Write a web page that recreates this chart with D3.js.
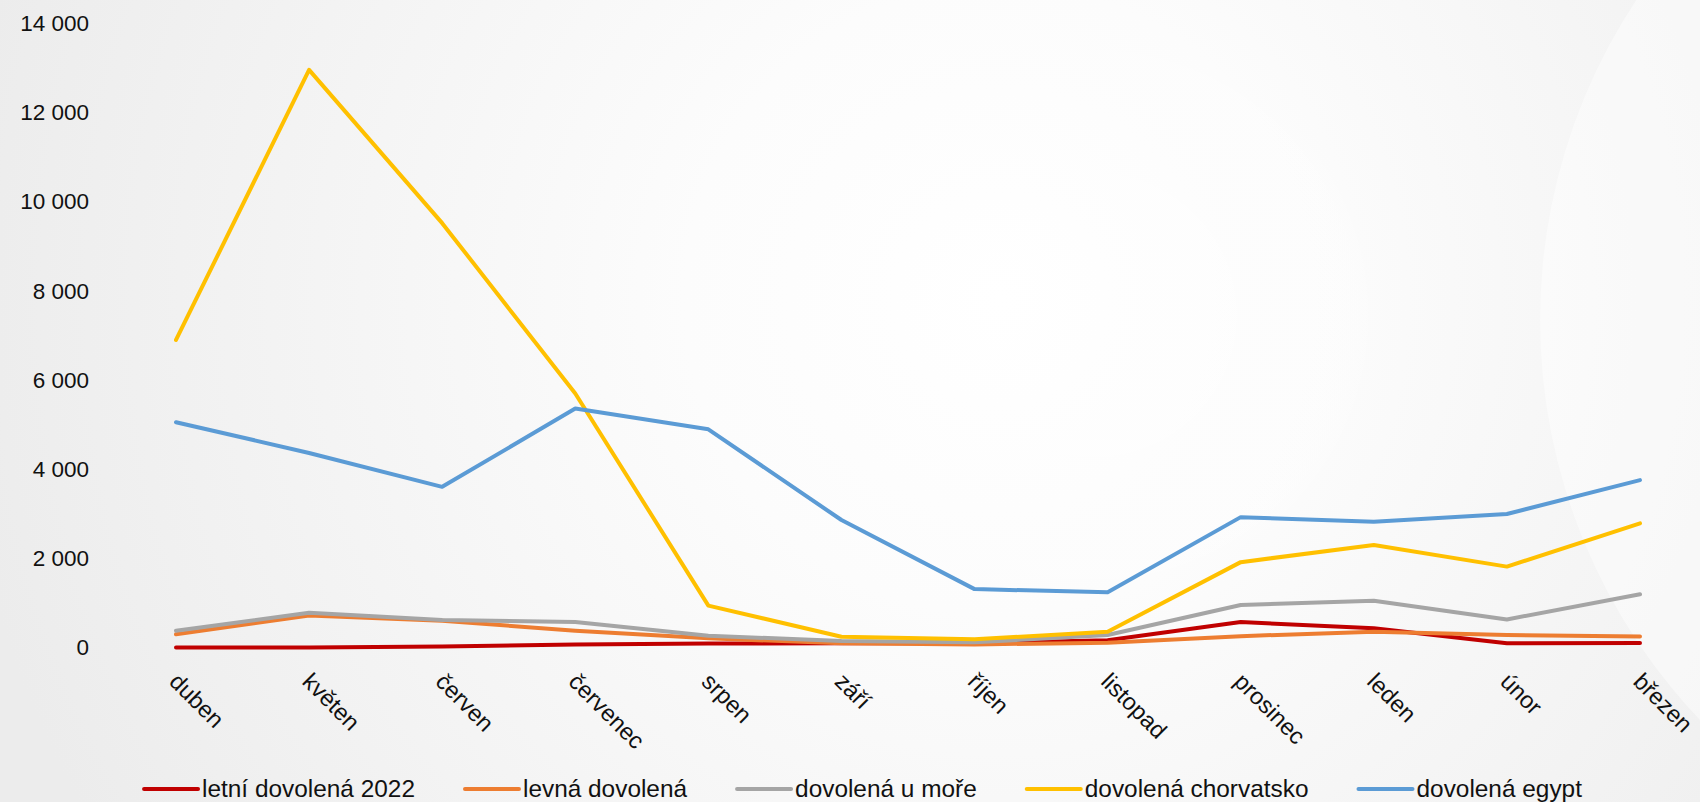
<!DOCTYPE html>
<html lang="cs">
<head>
<meta charset="utf-8">
<title>Vyhledávání dovolené</title>
<script src="https://cdn.jsdelivr.net/npm/d3@7"></script>
<style>
  html, body { margin: 0; padding: 0; background: #efefef; overflow: hidden; }
  svg { display: block; }
  text { font-family: "Liberation Sans", Arial, sans-serif; fill: #111; }
</style>
</head>
<body>
<svg id="chart" width="1700" height="802"></svg>
<script>
// Months (April to March)
const months = ["duben", "květen", "červen", "červenec", "srpen", "září",
                "říjen", "listopad", "prosinec", "leden", "únor", "březen"];

// Search volumes per series
const letniDovolena2022 = [0, 0, 20, 70, 90, 95, 95, 165, 570, 430, 95, 100];
const levnaDovolena     = [295, 720, 600, 375, 205, 95, 70, 105, 255, 355, 280, 245];
const dovolenaUMore     = [375, 780, 615, 570, 265, 145, 115, 280, 955, 1050, 630, 1195];
const dovolenaChorvatsko = [6900, 12960, 9520, 5700, 940, 240, 185, 355, 1915, 2300, 1815, 2785];
const dovolenaEgypt     = [5055, 4365, 3605, 5360, 4895, 2860, 1310, 1240, 2925, 2820, 2995, 3755];

const seriesNames = ["letní dovolená 2022", "levná dovolená", "dovolená u moře",
                     "dovolená chorvatsko", "dovolená egypt"];
const seriesColors = ["#C00000", "#ED7D31", "#A5A5A5", "#FFC000", "#5B9BD5"];
const seriesValues = [letniDovolena2022, levnaDovolena, dovolenaUMore,
                      dovolenaChorvatsko, dovolenaEgypt];

const yTicks = [0, 2000, 4000, 6000, 8000, 10000, 12000, 14000];

const W = 1700, H = 802;
const svg = d3.select("#chart");

// ---- background: soft grey with radial light ----
const defs = svg.append("defs");
const glow = defs.append("radialGradient").attr("id", "glow")
  .attr("gradientUnits", "userSpaceOnUse")
  .attr("cx", 1000).attr("cy", 300).attr("r", 1050);
glow.append("stop").attr("offset", 0).attr("stop-color", "#ffffff");
glow.append("stop").attr("offset", 0.3).attr("stop-color", "#fcfcfc");
glow.append("stop").attr("offset", 0.65).attr("stop-color", "#f4f4f4");
glow.append("stop").attr("offset", 1).attr("stop-color", "#ececec");

const ring = defs.append("radialGradient").attr("id", "ring");
ring.append("stop").attr("offset", 0).attr("stop-color", "#ffffff").attr("stop-opacity", 0.5);
ring.append("stop").attr("offset", 0.85).attr("stop-color", "#ffffff").attr("stop-opacity", 0.35);
ring.append("stop").attr("offset", 1).attr("stop-color", "#ffffff").attr("stop-opacity", 0);

svg.append("rect").attr("width", W).attr("height", H).attr("fill", "url(#glow)");
svg.append("circle").attr("cx", 1095).attr("cy", 315).attr("r", 300)
  .attr("fill", "url(#ring)").attr("opacity", 0.6);
svg.append("circle").attr("cx", 1095).attr("cy", 315).attr("r", 150)
  .attr("fill", "url(#ring)").attr("opacity", 0.7);
svg.append("circle").attr("cx", 2120).attr("cy", 320).attr("r", 580)
  .attr("fill", "#ffffff").attr("opacity", 0.45);

// ---- scales ----
const x = d3.scalePoint().domain(months).range([176, 1640]);
const y = d3.scaleLinear().domain([0, 14000]).range([647.5, 23.5]);

const fmt = d3.formatLocale({ decimal: ",", thousands: " ", grouping: [3], currency: ["", " Kč"] }).format(",d");

// ---- y axis (labels only) ----
const yAxis = svg.append("g").attr("transform", "translate(89,0)")
  .call(d3.axisLeft(y).tickValues(yTicks).tickFormat(fmt).tickSize(0).tickPadding(0));
yAxis.select(".domain").remove();
yAxis.selectAll("text")
  .style("font-family", '"Liberation Sans", Arial, sans-serif')
  .style("font-size", "22.5px").attr("fill", "#111");

// ---- x axis (rotated month labels) ----
const xAxis = svg.append("g")
  .call(d3.axisBottom(x).tickSize(0).tickPadding(0));
xAxis.select(".domain").remove();
xAxis.selectAll(".tick").attr("transform", d => `translate(${x(d) - 8},683)`);
xAxis.selectAll("text")
  .attr("x", 0).attr("y", 0).attr("dy", 0)
  .attr("transform", "rotate(45)")
  .style("text-anchor", "start")
  .style("font-family", '"Liberation Sans", Arial, sans-serif')
  .style("font-size", "23.5px").attr("fill", "#111");

// ---- lines ----
const line = d3.line().x((d, i) => x(months[i])).y(d => y(d));
svg.append("g").selectAll("path")
  .data(seriesValues)
  .join("path")
  .attr("d", d => line(d))
  .attr("fill", "none")
  .attr("stroke", (d, i) => seriesColors[i])
  .attr("stroke-width", 4)
  .attr("stroke-linejoin", "round")
  .attr("stroke-linecap", "round");

// ---- legend ----
const legend = svg.append("g").attr("class", "legend");
const items = legend.selectAll("g").data(seriesNames).join("g");
items.append("line")
  .attr("x1", 0).attr("x2", 54).attr("y1", 0).attr("y2", 0)
  .attr("stroke", (d, i) => seriesColors[i])
  .attr("stroke-width", 4).attr("stroke-linecap", "round");
items.append("text")
  .attr("x", 58).attr("y", 8)
  .style("font-size", "24.4px")
  .attr("fill", "#111")
  .text(d => d);

let cursor = 0;
const offsets = [];
items.each(function () {
  offsets.push(cursor);
  const w = d3.select(this).select("text").node().getComputedTextLength();
  cursor += 58 + w + 50;
});
const totalW = cursor - 50;
const startX = 863 - totalW / 2;
items.attr("transform", (d, i) => `translate(${startX + offsets[i]},789)`);
</script>
</body>
</html>
